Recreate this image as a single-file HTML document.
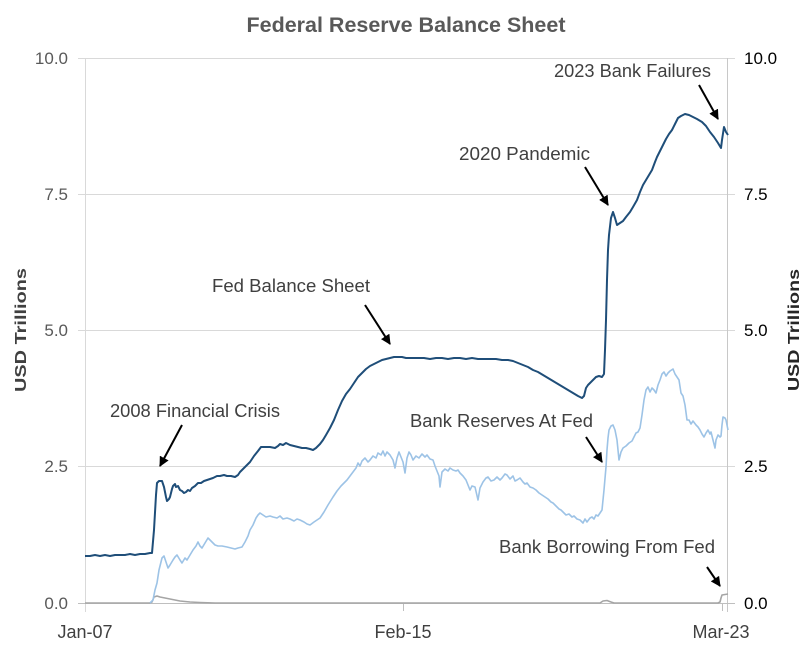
<!DOCTYPE html>
<html>
<head>
<meta charset="utf-8">
<style>
html,body{margin:0;padding:0;background:#fff;}
svg{display:block;}
text{font-family:"Liberation Sans",Arial,sans-serif;}
</style>
</head>
<body>
<svg width="812" height="653" viewBox="0 0 812 653" xmlns="http://www.w3.org/2000/svg">
<defs>
<marker id="ah" viewBox="0 0 10 10" refX="9" refY="5" markerWidth="5" markerHeight="5" orient="auto" markerUnits="strokeWidth">
<path d="M0,0 L10,5 L0,10 z" fill="#000"/>
</marker>
</defs>
<rect width="812" height="653" fill="#fff"/>
<!-- title -->
<text x="406" y="32" text-anchor="middle" font-size="21.5" font-weight="bold" fill="#595959" textLength="319" lengthAdjust="spacingAndGlyphs">Federal Reserve Balance Sheet</text>

<!-- gridlines -->
<g stroke="#d9d9d9" stroke-width="1">
<line x1="78" y1="58.5" x2="735" y2="58.5"/>
<line x1="78" y1="194.5" x2="735" y2="194.5"/>
<line x1="78" y1="330.5" x2="735" y2="330.5"/>
<line x1="78" y1="466.5" x2="735" y2="466.5"/>
<line x1="85.5" y1="58" x2="85.5" y2="612"/>
</g>
<line x1="727.5" y1="58" x2="727.5" y2="612" stroke="#c8c8c8" stroke-width="1"/>
<line x1="78" y1="603.5" x2="735" y2="603.5" stroke="#bfbfbf" stroke-width="1"/>
<g stroke="#bfbfbf" stroke-width="1">
<line x1="403.5" y1="603" x2="403.5" y2="611"/>
<line x1="722.5" y1="603" x2="722.5" y2="611"/>
</g>

<!-- left tick labels -->
<g font-size="17" fill="#595959" text-anchor="end">
<text x="68" y="64">10.0</text>
<text x="68" y="200">7.5</text>
<text x="68" y="336">5.0</text>
<text x="68" y="472">2.5</text>
<text x="68" y="609">0.0</text>
</g>
<!-- right tick labels -->
<g font-size="17" fill="#000">
<text x="744" y="64">10.0</text>
<text x="744" y="200">7.5</text>
<text x="744" y="336">5.0</text>
<text x="744" y="472">2.5</text>
<text x="744" y="609">0.0</text>
</g>
<!-- x labels -->
<g font-size="18" fill="#404040" text-anchor="middle">
<text x="85" y="638">Jan-07</text>
<text x="403" y="638">Feb-15</text>
<text x="721" y="638">Mar-23</text>
</g>
<!-- axis titles -->
<text transform="translate(26,330) rotate(-90)" text-anchor="middle" font-size="16" font-weight="bold" fill="#404040" textLength="124" lengthAdjust="spacingAndGlyphs">USD  Trillions</text>
<text transform="translate(799,330) rotate(-90)" text-anchor="middle" font-size="16" font-weight="bold" fill="#262626" textLength="122" lengthAdjust="spacingAndGlyphs">USD  Trillions</text>

<!-- borrowing (gray) -->
<polyline fill="none" stroke="#a5a5a5" stroke-width="1.6" stroke-linejoin="round" points="85,603 150,603 152,602 154,597 157,596 160,597 165,598 170,599 175,600 180,601 190,602 200,602.5 215,603 600,603 603,601 607,600.5 611,602 614,603 718,603 720,602 721,598 722,595 728,594"/>

<!-- bank reserves (light blue) -->
<polyline fill="none" stroke="#9dc3e6" stroke-width="1.6" stroke-linejoin="round" points="150,603 153,600 155,590 157,583 159,570 162,558 164,556 166,562 168,568 170,565 173,560 175,557 177,555 180,560 182,563 185,558 187,560 190,555 193,550 196,546 198,542 200,546 202,548 205,543 208,538 211,541 213,543 215,545 218,546 222,546 227,547 231,548 235,549 238,548 242,547 245,542 248,536 250,530 253,525 256,518 258,515 260,513 263,515 266,517 270,516 273,517 277,518 280,516 283,519 287,518 290,519 294,521 297,519 300,520 304,522 307,524 310,525 314,522 317,520 320,518 324,512 328,505 333,497 337,491 341,486 344,483 347,480 350,476 353,472 356,468 358,463 360,466 362,461 365,458 368,462 370,460 373,456 376,458 378,453 381,455 383,451 385,456 387,452 390,455 393,460 395,468 397,458 399,452 401,457 403,462 405,473 407,458 409,452 411,455 413,460 416,456 419,458 422,454 425,457 427,455 430,459 433,460 435,466 437,471 439,476 440,487 442,472 445,469 448,471 450,468 453,470 456,471 458,470 460,473 463,476 466,480 468,485 470,490 472,486 475,487 478,500 480,488 483,482 486,478 488,477 491,481 494,480 497,477 500,480 502,478 505,474 507,475 510,479 513,476 515,481 517,480 520,478 523,482 525,484 527,483 530,487 533,488 536,490 539,493 542,495 545,497 548,499 551,502 553,503 556,506 559,509 561,510 563,512 566,515 569,514 572,517 574,516 577,519 580,520 583,523 585,519 587,522 590,518 592,517 594,519 596,515 598,516 600,513 602,510 604,490 606,467 607,450 608,438 609,430 611,426 613,425 615,430 617,440 619,460 621,452 623,448 626,446 629,443 632,441 634,437 636,433 638,432 640,428 642,415 644,400 646,390 648,387 650,392 652,388 654,390 656,393 658,385 660,380 662,374 664,372 666,376 668,373 670,371 673,369 675,374 677,377 679,380 681,393 683,396 685,405 687,420 689,420 691,424 693,421 696,425 698,427 700,430 702,434 704,437 706,433 708,430 710,434 711,432 713,440 715,448 716,440 718,435 720,437 721,436 722,425 723,417 725,418 726,420 728,430"/>

<!-- fed balance sheet (navy) -->
<polyline fill="none" stroke="#1f4e79" stroke-width="2" stroke-linejoin="round" points="85,556 90,556 95,555 100,556 105,555 110,556 115,555 120,555 125,555 130,554 135,555 140,554 145,554 150,553 152,553 154,530 156,495 157,483 159,481 162,481 164,487 166,497 167,501 169,499 170,497 172,489 173,486 175,484 176,487 178,486 180,490 182,491 184,493 186,492 188,490 190,491 192,488 195,486 198,483 201,483 204,481 207,480 210,479 213,478 217,476 220,476 224,475 227,476 231,476 235,477 238,475 240,472 243,469 246,466 250,462 254,456 258,451 261,447 265,447 270,447 275,448 278,446 280,444 283,445 286,443 290,445 294,446 298,447 302,448 306,448 310,449 313,450 316,448 320,444 323,440 326,435 330,428 334,420 338,410 342,401 346,394 350,389 354,383 358,377 362,373 366,369 370,366 374,364 378,362 382,360 386,359 390,358 394,357 398,357 402,357 406,358 412,358 418,358 424,358 430,359 436,358 442,358 448,359 454,358 460,358 466,359 472,358 478,359 484,359 490,359 496,359 502,360 508,360 513,361 518,363 523,365 528,367 533,370 538,372 543,375 548,378 553,381 558,384 563,387 568,390 573,393 578,396 582,398 584,396 586,388 588,385 590,383 593,380 596,377 599,376 602,377 604,374 605,350 606,320 607,280 608,250 609,235 611,218 613,212 615,218 617,225 620,223 623,221 626,217 630,212 633,207 637,200 640,192 643,185 646,180 649,175 652,170 655,162 657,157 660,151 663,145 666,139 669,134 672,130 675,124 678,118 681,116 685,114 689,115 693,117 697,119 702,122 706,126 710,132 714,137 718,143 721,148 722,140 724,127 726,132 728,135"/>

<!-- annotations -->
<g font-size="18" fill="#404040">
<text x="110" y="417" textLength="170" lengthAdjust="spacingAndGlyphs">2008 Financial Crisis</text>
<text x="212" y="292" textLength="158" lengthAdjust="spacingAndGlyphs">Fed Balance Sheet</text>
<text x="459" y="160" textLength="131" lengthAdjust="spacingAndGlyphs">2020 Pandemic</text>
<text x="554" y="77" textLength="157" lengthAdjust="spacingAndGlyphs">2023 Bank Failures</text>
<text x="410" y="427" textLength="183" lengthAdjust="spacingAndGlyphs">Bank Reserves At Fed</text>
<text x="499" y="553" textLength="216" lengthAdjust="spacingAndGlyphs">Bank Borrowing From Fed</text>
</g>
<g stroke="#000" stroke-width="2" marker-end="url(#ah)">
<line x1="182" y1="425" x2="160" y2="466"/>
<line x1="365" y1="305" x2="390" y2="344"/>
<line x1="585" y1="167" x2="608" y2="205"/>
<line x1="699" y1="85" x2="718" y2="119"/>
<line x1="586" y1="437" x2="602" y2="462"/>
<line x1="707" y1="567" x2="720" y2="586"/>
</g>
</svg>
</body>
</html>
